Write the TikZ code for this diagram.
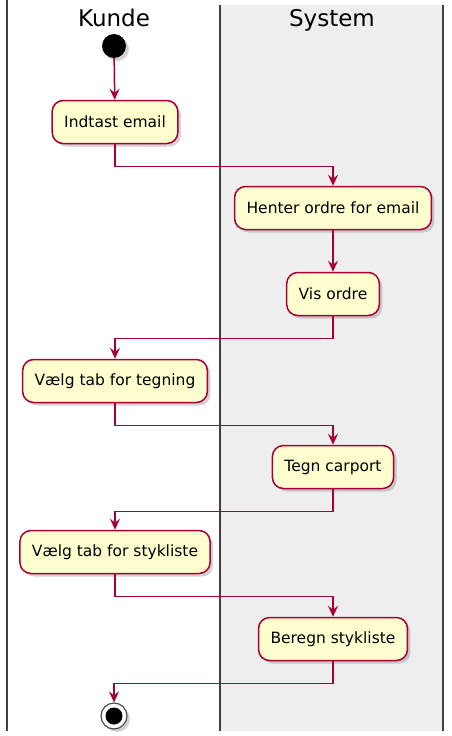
\documentclass[tikz,border=0pt]{standalone}
\usepackage{fontspec}
\setmainfont{DejaVu Sans}
\usetikzlibrary{arrows.meta,shadows}
\definecolor{umlred}{HTML}{A80036}
\definecolor{umlfill}{HTML}{FEFECE}
\definecolor{lanegray}{HTML}{EEEEEE}
\begin{document}
\begin{tikzpicture}[x=1pt, y=-1pt, >={Stealth[length=11pt,width=10pt,inset=4pt]},
    activity/.style={draw=umlred, line width=1.5pt, fill=umlfill, rounded corners=11pt,
        minimum height=43pt, inner xsep=12pt, font=\fontsize{15.5}{18}\selectfont,
        drop shadow={shadow xshift=3pt, shadow yshift=-3pt, opacity=0.35}},
    flow/.style={->, color=umlred, line width=1.5pt},
    lane/.style={line width=2pt, draw=black!75},
    title/.style={anchor=base, font=\fontsize{23}{26}\selectfont}]
        \useasboundingbox (0,0) rectangle (452,736);

        % Raias (swimlanes)
        \fill[lanegray] (220,5) rectangle (443,731);
        \draw[lane] (7,0) -- (7,731);
        \draw[lane] (220,5) -- (220,731);
        \draw[lane] (443,5) -- (443,731);
        \node[title] (kunde) at (114,27) {Kunde};
        \node[title] (system) at (332,27) {System};

        % Start
        \node[circle, fill=black, minimum size=24pt, inner sep=0pt,
              drop shadow={shadow xshift=3pt, shadow yshift=-3pt, opacity=0.35}] (start) at (114,46) {};

        % Aktiviteter
        \node[activity] (email) at (115,122) {Indtast email};
        \node[activity] (henter) at (333,208) {Henter ordre for email};
        \node[activity] (vis) at (333,294) {Vis ordre};
        \node[activity] (tegning) at (115,381) {Vælg tab for tegning};
        \node[activity] (tegn) at (333,467) {Tegn carport};
        \node[activity] (stykliste) at (115,552) {Vælg tab for stykliste};
        \node[activity] (beregn) at (333,639) {Beregn stykliste};

        % Slut
        \node[circle, draw=black!70, line width=1.2pt, fill=white, minimum size=26pt, inner sep=0pt,
              drop shadow={shadow xshift=3pt, shadow yshift=-3pt, opacity=0.35}] (stop) at (114,716) {};
        \node[circle, fill=black, minimum size=17pt, inner sep=0pt] (stopdot) at (stop) {};

        % Forbindelser
        \draw[flow] (start) -- (email);
        \draw[flow] (email.south) -- ++(0,22) -| (henter.north);
        \draw[flow] (henter) -- (vis);
        \draw[flow] (vis.south) -- ++(0,22) -| (tegning.north);
        \draw[flow] (tegning.south) -- ++(0,22) -| (tegn.north);
        \draw[flow] (tegn.south) -- ++(0,22) -| (stykliste.north);
        \draw[flow] (stykliste.south) -- ++(0,22) -| (beregn.north);
        \draw[flow] (beregn.south) -- ++(0,22) -| (stop.north);

    \end{tikzpicture}
\end{document}
